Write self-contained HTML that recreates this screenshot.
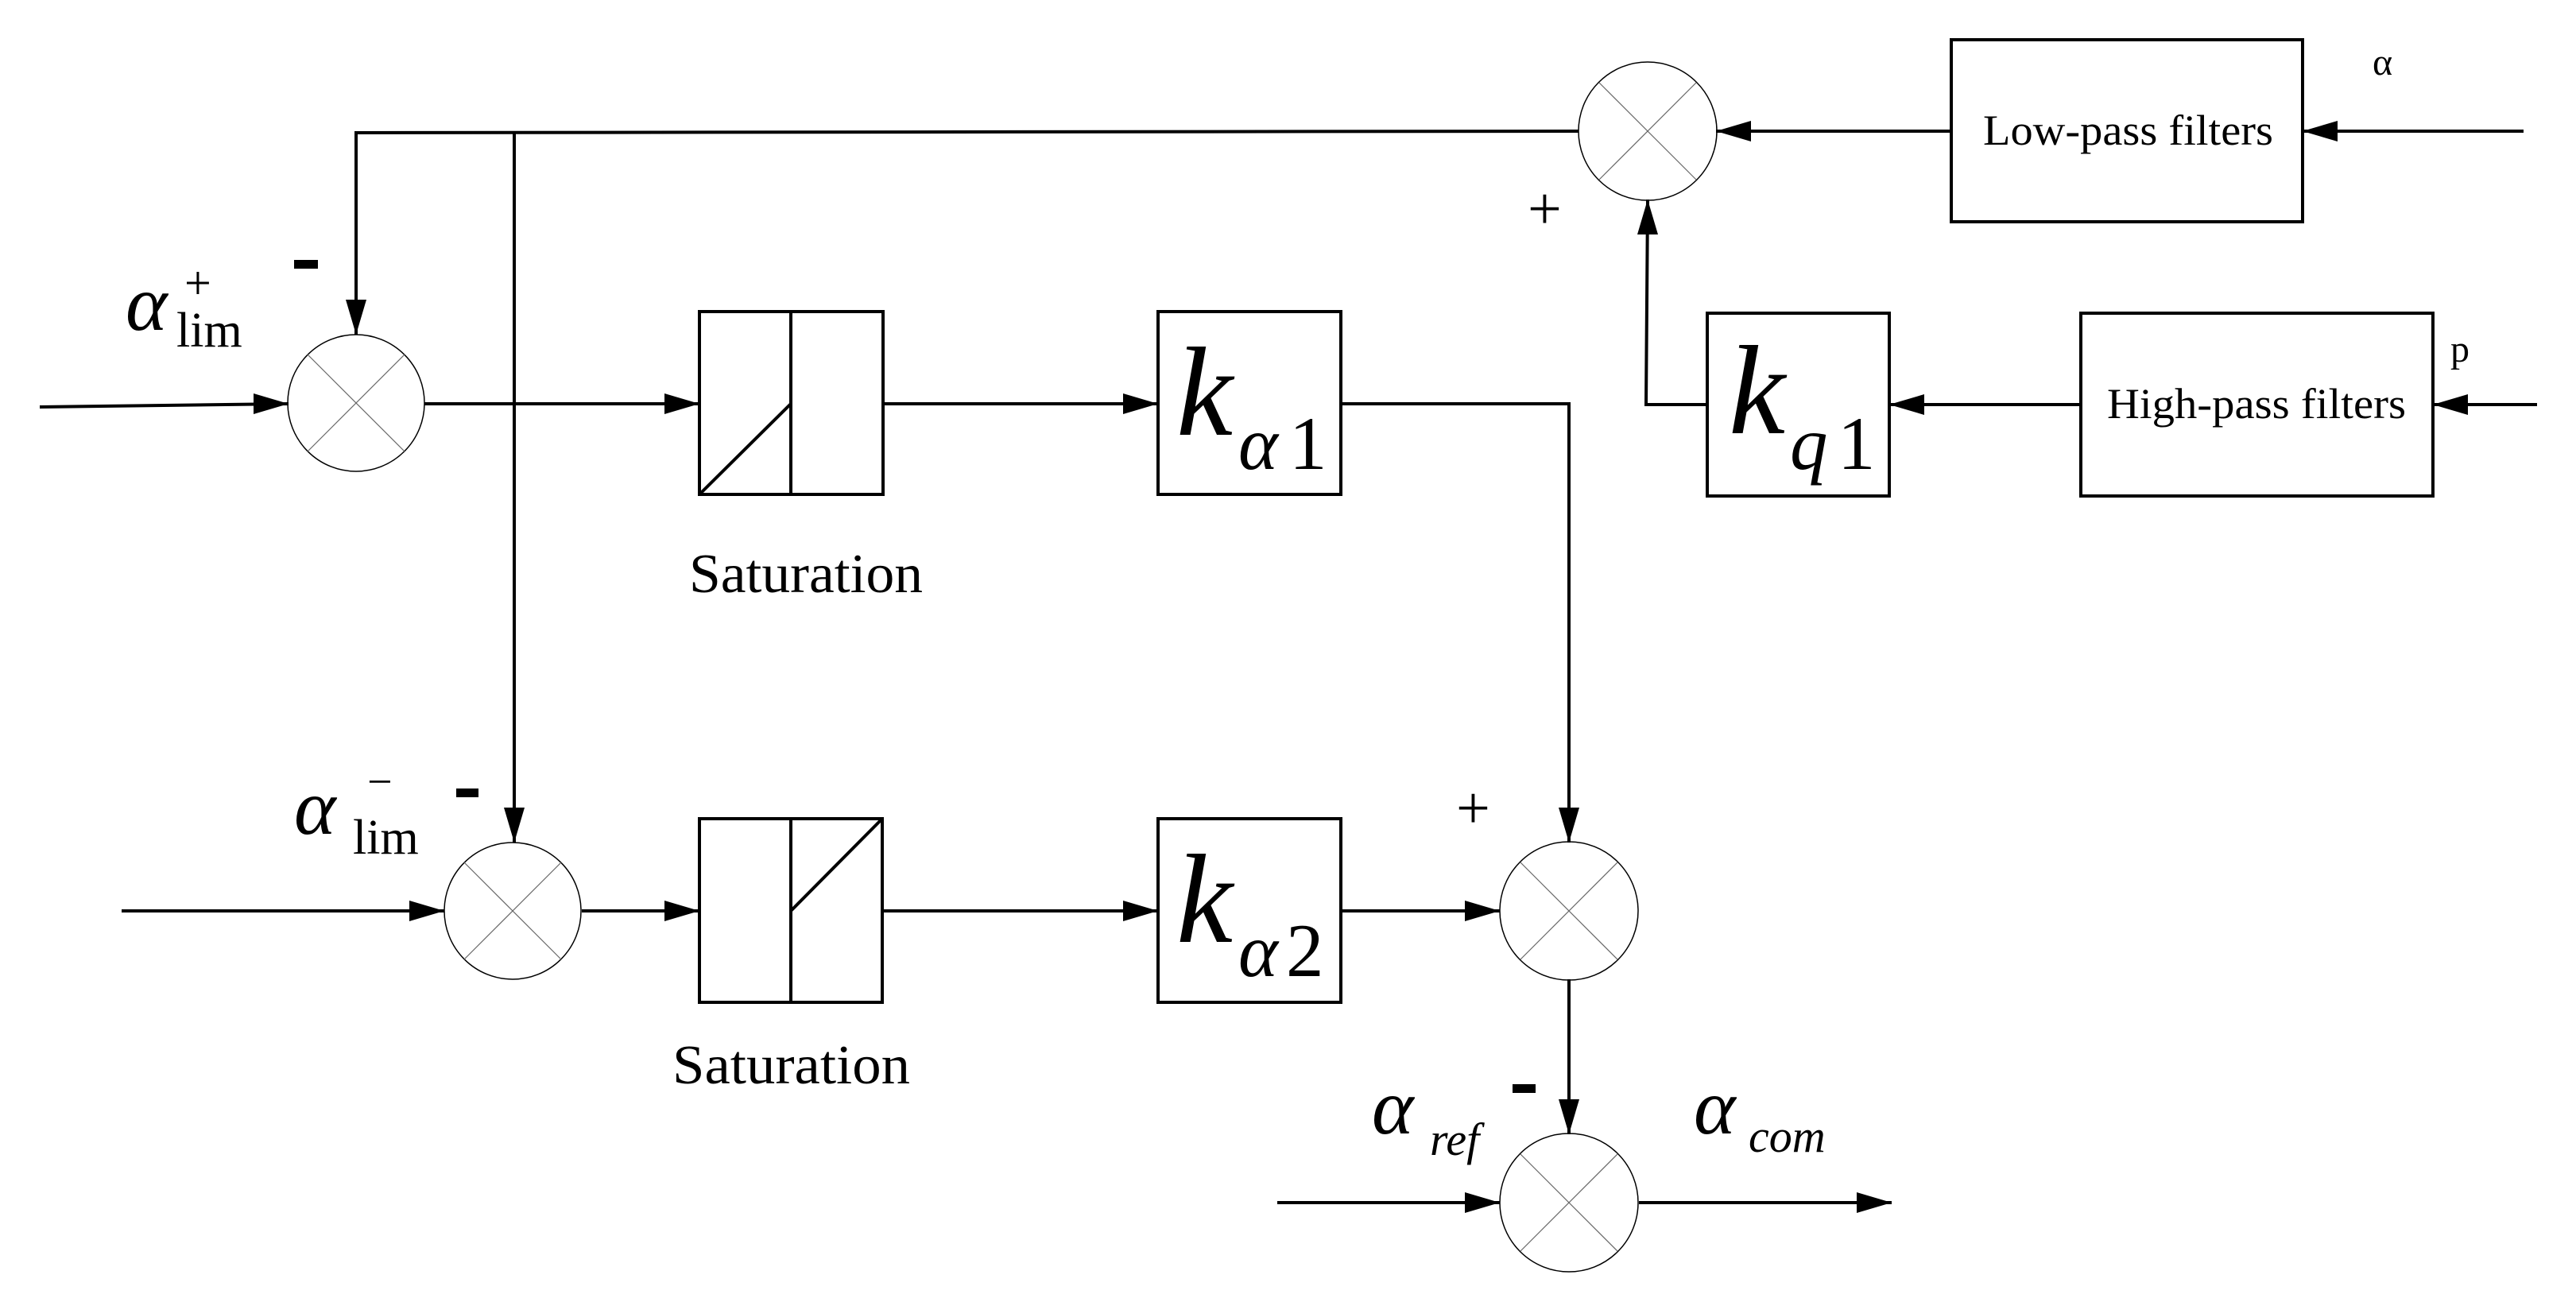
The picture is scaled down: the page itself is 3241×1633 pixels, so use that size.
<!DOCTYPE html>
<html><head><meta charset="utf-8"><style>
html,body{margin:0;padding:0;background:#fff;}
svg{display:block;}
text{font-family:"Liberation Serif",serif;fill:#000;}
</style></head><body>
<svg width="3241" height="1633" viewBox="0 0 3241 1633" xmlns="http://www.w3.org/2000/svg">
<g stroke="#000" stroke-width="4" fill="none">
<polyline points="448,421 448,167 1986,165"/>
<line x1="647" y1="167" x2="647" y2="1060"/>
<line x1="50" y1="512" x2="363" y2="508"/>
<line x1="534" y1="508" x2="880" y2="508"/>
<line x1="1111" y1="508" x2="1457" y2="508"/>
<polyline points="1687,508 1974,508 1974,1060"/>
<line x1="153" y1="1146" x2="559" y2="1146"/>
<line x1="732" y1="1146" x2="880" y2="1146"/>
<line x1="1110" y1="1146" x2="1457" y2="1146"/>
<line x1="1687" y1="1146" x2="1887" y2="1146"/>
<line x1="1974" y1="1232" x2="1974" y2="1427"/>
<line x1="1607" y1="1513" x2="1887" y2="1513"/>
<line x1="2062" y1="1513" x2="2380" y2="1513"/>
<line x1="2159" y1="165" x2="2455" y2="165"/>
<line x1="2897" y1="165" x2="3175" y2="165"/>
<polyline points="2148,509 2071,509 2073,251"/>
<line x1="2377" y1="509" x2="2618" y2="509"/>
<line x1="3061" y1="509" x2="3192" y2="509"/>
<rect x="880" y="392" width="231" height="230"/>
<line x1="995" y1="392" x2="995" y2="622"/>
<line x1="880" y1="622" x2="995" y2="508"/>
<rect x="880" y="1030" width="230" height="231"/>
<line x1="995" y1="1030" x2="995" y2="1261"/>
<line x1="995" y1="1146" x2="1110" y2="1030"/>
<rect x="1457" y="392" width="230" height="230"/>
<rect x="1457" y="1030" width="230" height="231"/>
<rect x="2455" y="50" width="442" height="229"/>
<rect x="2148" y="394" width="229" height="230"/>
<rect x="2618" y="394" width="443" height="230"/>
</g>
<g stroke="#000" stroke-width="1.5" fill="none">
<circle cx="448" cy="507" r="86"/>
<circle cx="645" cy="1146" r="86"/>
<circle cx="1974" cy="1146" r="87"/>
<circle cx="1974" cy="1513" r="87"/>
<circle cx="2073" cy="165" r="87"/>
</g>
<g stroke="#666" stroke-width="1.2" fill="none">
<line x1="387" y1="446" x2="509" y2="568"/><line x1="509" y1="446" x2="387" y2="568"/>
<line x1="584" y1="1085" x2="706" y2="1207"/><line x1="706" y1="1085" x2="584" y2="1207"/>
<line x1="1913" y1="1085" x2="2035" y2="1207"/><line x1="2035" y1="1085" x2="1913" y2="1207"/>
<line x1="1913" y1="1452" x2="2035" y2="1574"/><line x1="2035" y1="1452" x2="1913" y2="1574"/>
<line x1="2012" y1="104" x2="2134" y2="226"/><line x1="2134" y1="104" x2="2012" y2="226"/>
</g>
<g fill="#000">
<polygon points="448,421 435,377 461,377"/>
<polygon points="647,1060 634,1016 660,1016"/>
<polygon points="363,508 319,495 319,521"/>
<polygon points="880,508 836,495 836,521"/>
<polygon points="1457,508 1413,495 1413,521"/>
<polygon points="1974,1060 1961,1016 1987,1016"/>
<polygon points="559,1146 515,1133 515,1159"/>
<polygon points="880,1146 836,1133 836,1159"/>
<polygon points="1457,1146 1413,1133 1413,1159"/>
<polygon points="1887,1146 1843,1133 1843,1159"/>
<polygon points="1974,1427 1961,1383 1987,1383"/>
<polygon points="1887,1513 1843,1500 1843,1526"/>
<polygon points="2380,1513 2336,1500 2336,1526"/>
<polygon points="2159,165 2203,152 2203,178"/>
<polygon points="2897,165 2941,152 2941,178"/>
<polygon points="2073,251 2060,295 2086,295"/>
<polygon points="2377,509 2421,496 2421,522"/>
<polygon points="3061,509 3105,496 3105,522"/>
<rect x="370" y="327" width="30" height="11"/>
<rect x="574" y="992" width="28" height="11"/>
<rect x="1903" y="1364" width="29" height="11"/>
</g>
<text x="867" y="745" font-size="70" textLength="294" lengthAdjust="spacingAndGlyphs">Saturation</text>
<text x="846" y="1363" font-size="70" textLength="299" lengthAdjust="spacingAndGlyphs">Saturation</text>
<text x="2495" y="182" font-size="54" textLength="365" lengthAdjust="spacingAndGlyphs">Low-pass filters</text>
<text x="2651" y="526" font-size="54" textLength="376" lengthAdjust="spacingAndGlyphs">High-pass filters</text>
<text x="2985" y="94" font-size="48">α</text>
<text x="3083" y="455" font-size="48">p</text>
<text x="1922" y="288" font-size="76">+</text>
<text x="1832" y="1042" font-size="76">+</text>
<text x="1480" y="547" font-size="160" font-style="italic">k</text>
<text x="1558" y="590" font-size="95" font-style="italic">α</text>
<text x="1622" y="590" font-size="95">1</text>
<text x="1480" y="1185" font-size="160" font-style="italic">k</text>
<text x="1558" y="1228" font-size="95" font-style="italic">α</text>
<text x="1618" y="1228" font-size="95">2</text>
<text x="2175" y="545" font-size="160" font-style="italic">k</text>
<text x="2252" y="590" font-size="95" font-style="italic">q</text>
<text x="2312" y="590" font-size="95">1</text>
<text x="158" y="415" font-size="100" font-style="italic">α</text>
<text x="222" y="436" font-size="62">lim</text>
<text x="232" y="376" font-size="60">+</text>
<text x="370" y="1049" font-size="100" font-style="italic">α</text>
<text x="444" y="1074" font-size="62">lim</text>
<text x="462" y="1002" font-size="56">−</text>
<text x="1726" y="1426" font-size="100" font-style="italic">α</text>
<text x="1799" y="1453" font-size="58" font-style="italic">ref</text>
<text x="2131" y="1426" font-size="100" font-style="italic">α</text>
<text x="2200" y="1449" font-size="58" font-style="italic">com</text>
</svg>
</body></html>
